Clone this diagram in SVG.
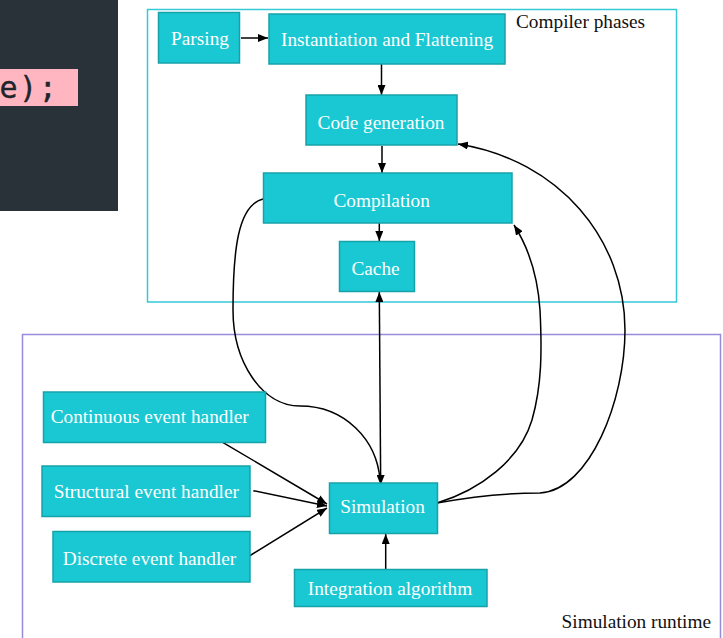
<svg xmlns="http://www.w3.org/2000/svg" width="723" height="638" viewBox="0 0 723 638">
<style>
.node rect{fill:#19c8d2;stroke:#17a2aa;stroke-width:1.5}
.node text{fill:#ffffff;font-family:"Liberation Serif","Times New Roman",serif;font-size:19.3px;text-anchor:middle}
.lbl{fill:#111;font-family:"Liberation Serif","Times New Roman",serif;font-size:19.3px}
.edge{fill:none;stroke:#000;stroke-width:1.5}
</style>
<defs>
<marker id="ah" viewBox="0 0 10 8" refX="10" refY="4" markerWidth="10" markerHeight="8" markerUnits="userSpaceOnUse" orient="auto-start-reverse">
<path d="M0,0 L10,4 L0,8 z" fill="#000"/>
</marker>
</defs>
<rect width="723" height="638" fill="#ffffff"/>
<g id="code-snippet">
<rect x="0" y="0" width="118" height="211" fill="#293238"/>
<rect x="0" y="69" width="78" height="37" fill="#ffb6c1"/>
<text x="-20" y="98" font-family="'DejaVu Sans Mono','Liberation Mono',monospace" font-size="30" letter-spacing="1.5" fill="#1e262b" stroke="#1e262b" stroke-width="0.4">ue);</text>
</g>
<g id="cluster-compiler">
<rect x="147.5" y="9.5" width="529" height="292.5" fill="none" stroke="#36c9d6" stroke-width="1.5"/>
<text class="lbl" x="516" y="28">Compiler phases</text>
</g>
<g id="cluster-runtime">
<rect x="22.5" y="334.5" width="698" height="320" fill="none" stroke="#978bdb" stroke-width="1.5"/>
<text class="lbl" x="711" y="628" text-anchor="end">Simulation runtime</text>
</g>
<g id="edges">
<path class="edge" d="M241,38 L268,38" marker-end="url(#ah)"/>
<path class="edge" d="M381.5,64 L381.5,95" marker-end="url(#ah)"/>
<path class="edge" d="M382,146 L382,173" marker-end="url(#ah)"/>
<path class="edge" d="M379.3,223 L379.3,241" marker-end="url(#ah)"/>
<path class="edge" d="M379.3,292 L380.7,485" marker-start="url(#ah)" marker-end="url(#ah)"/>
<path class="edge" d="M263,199 C238,205 233,250 233,310 C233,362 262,406 300,406 C345,406 377,440 380,480"/>
<path class="edge" d="M437,503 C480,490 520,460 532,420 C542,385 542,350 540,310 C538,280 530,250 514,225" marker-end="url(#ah)"/>
<path class="edge" d="M437,503 C470,497 500,493 540,493 C590,490 625,400 625,330 C625,240 560,160 458,144" marker-end="url(#ah)"/>
<path class="edge" d="M222.7,442.3 L327,504" marker-end="url(#ah)"/>
<path class="edge" d="M253.3,490.7 L327,506" marker-end="url(#ah)"/>
<path class="edge" d="M249.3,556 L327,508" marker-end="url(#ah)"/>
<path class="edge" d="M385.7,569 L385.7,534" marker-end="url(#ah)"/>
</g>
<g id="n-parsing" class="node"><rect x="158.5" y="12.5" width="81" height="50.5"/><text x="200" y="45">Parsing</text></g>
<g id="n-inst" class="node"><rect x="269" y="14" width="236" height="50"/><text x="387" y="45.5">Instantiation and Flattening</text></g>
<g id="n-codegen" class="node"><rect x="306" y="95" width="151" height="50"/><text x="381" y="128.5">Code generation</text></g>
<g id="n-compilation" class="node"><rect x="263.5" y="173" width="248.5" height="50"/><text x="381.7" y="206.5">Compilation</text></g>
<g id="n-cache" class="node"><rect x="339.5" y="241.5" width="75" height="50"/><text x="375.5" y="275">Cache</text></g>
<g id="n-continuous" class="node"><rect x="43.5" y="392" width="222" height="50.5"/><text x="149.7" y="423">Continuous event handler</text></g>
<g id="n-structural" class="node"><rect x="42" y="466" width="208" height="50.5"/><text x="146.3" y="498">Structural event handler</text></g>
<g id="n-discrete" class="node"><rect x="53" y="531.5" width="197" height="50.5"/><text x="149.5" y="565">Discrete event handler</text></g>
<g id="n-simulation" class="node"><rect x="329.5" y="483" width="108" height="50.5"/><text x="382.5" y="512.5">Simulation</text></g>
<g id="n-integration" class="node"><rect x="294.5" y="569.5" width="192.5" height="37"/><text x="390" y="595">Integration algorithm</text></g>
</svg>
